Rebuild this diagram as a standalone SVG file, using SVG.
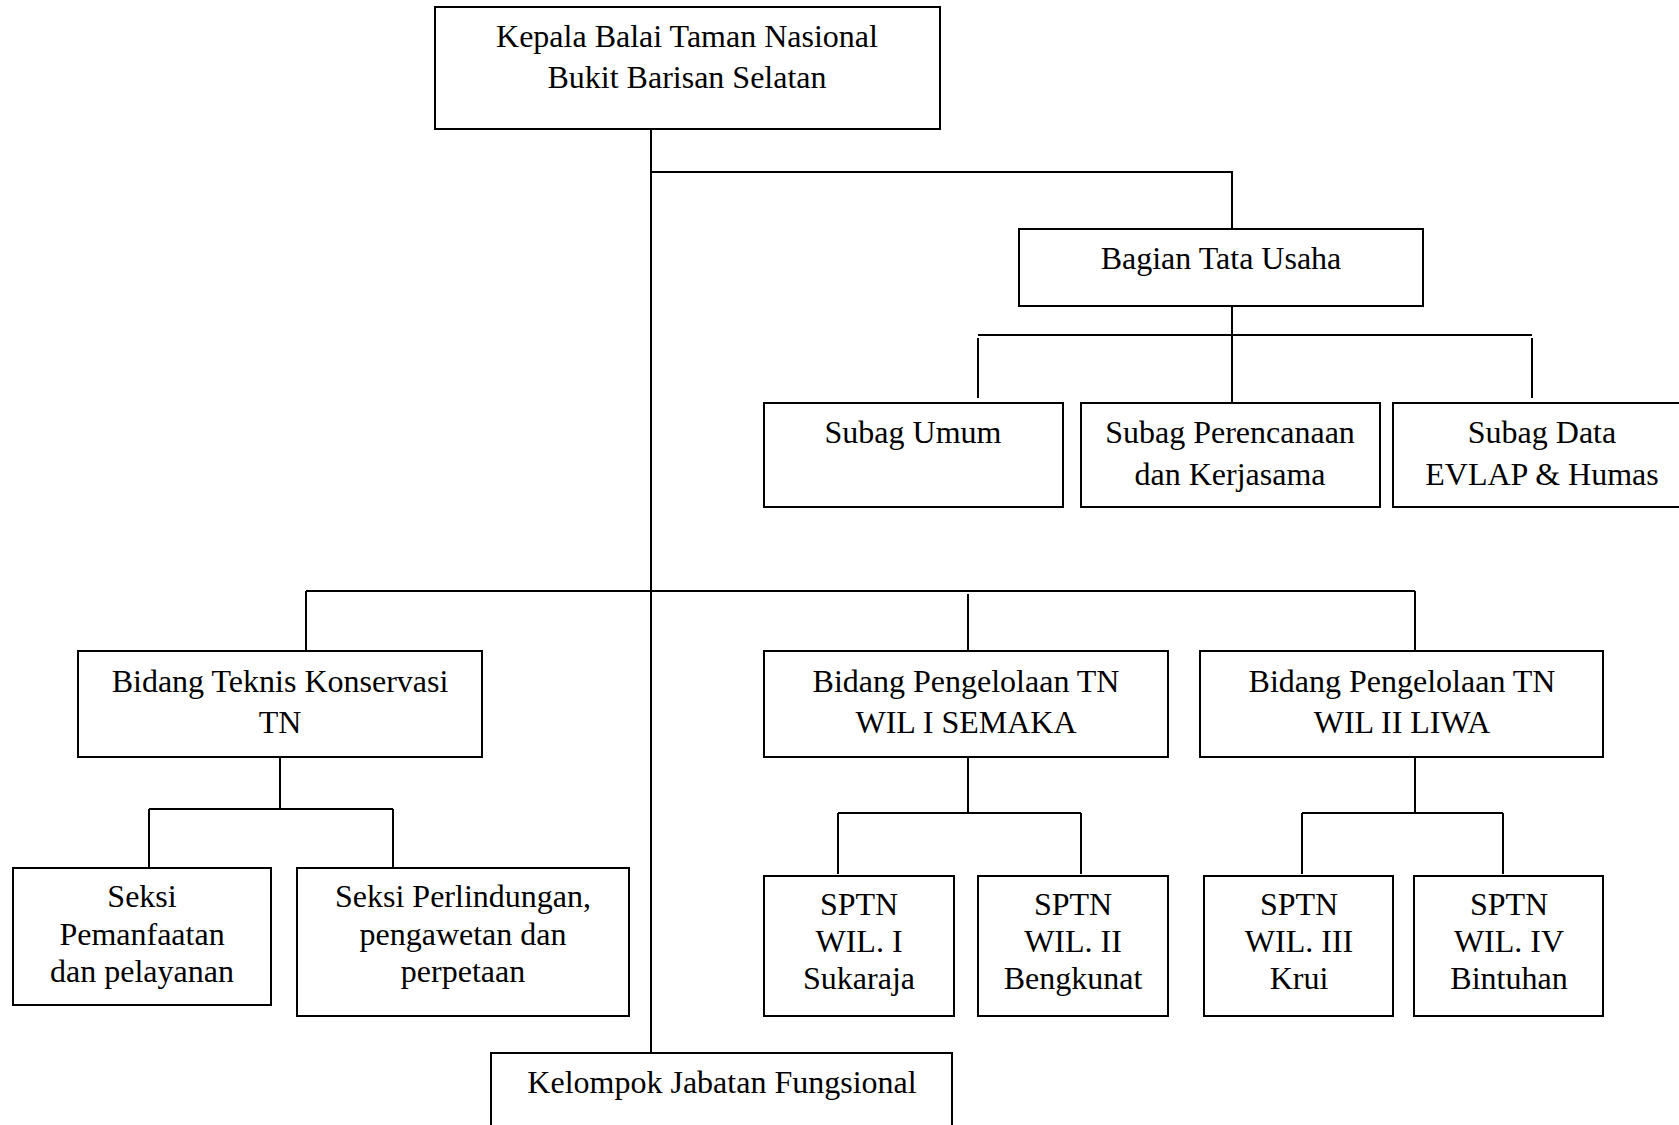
<svg xmlns="http://www.w3.org/2000/svg" width="1679" height="1125" viewBox="0 0 1679 1125">
<style>
.box{fill:#fff;stroke:#000;stroke-width:2}
.c{fill:none;stroke:#000;stroke-width:2}
text{font-family:"Liberation Serif","Times New Roman",serif;font-size:32px;fill:#000;text-anchor:middle}
</style>
<rect width="1679" height="1125" fill="#fff"/>
<g id="connectors">
<path class="c" d="M651 129V1053"/>
<path class="c" d="M651 172H1232V229"/>
<path class="c" d="M1232 306V403"/>
<path class="c" d="M978 335H1532"/>
<path class="c" d="M978 338V398M1532 338V398"/>
<path class="c" d="M306 591H1415"/>
<path class="c" d="M306 591V651M968 594V651M1415 591V651"/>
<path class="c" d="M280 757V809M149 809H393M149 809V868M393 809V868"/>
<path class="c" d="M968 757V813M838 813H1081M838 813V874M1081 813V874"/>
<path class="c" d="M1415 757V813M1302 813H1503M1302 813V874M1503 813V874"/>
</g>
<g id="kepala"><rect class="box" x="435" y="7" width="505" height="122"/><text x="687" y="47">Kepala Balai Taman Nasional</text><text x="687" y="88">Bukit Barisan Selatan</text></g>
<g id="bagian-tu"><rect class="box" x="1019" y="229" width="404" height="77"/><text x="1221" y="269">Bagian Tata Usaha</text></g>
<g id="subag-umum"><rect class="box" x="764" y="403" width="299" height="104"/><text x="913" y="443">Subag Umum</text></g>
<g id="subag-perencanaan"><rect class="box" x="1081" y="403" width="299" height="104"/><text x="1230" y="443">Subag Perencanaan</text><text x="1230" y="485">dan Kerjasama</text></g>
<g id="subag-data"><rect class="box" x="1393" y="403" width="310" height="104"/><text x="1542" y="443">Subag Data</text><text x="1542" y="485">EVLAP &amp; Humas</text></g>
<g id="bidang-teknis"><rect class="box" x="78" y="651" width="404" height="106"/><text x="280" y="692">Bidang Teknis Konservasi</text><text x="280" y="733">TN</text></g>
<g id="bidang-wil1"><rect class="box" x="764" y="651" width="404" height="106"/><text x="966" y="692">Bidang Pengelolaan TN</text><text x="966" y="733">WIL I SEMAKA</text></g>
<g id="bidang-wil2"><rect class="box" x="1200" y="651" width="403" height="106"/><text x="1402" y="692">Bidang Pengelolaan TN</text><text x="1402" y="733">WIL II LIWA</text></g>
<g id="seksi-pemanfaatan"><rect class="box" x="13" y="868" width="258" height="137"/><text x="142" y="907">Seksi</text><text x="142" y="945">Pemanfaatan</text><text x="142" y="982">dan pelayanan</text></g>
<g id="seksi-perlindungan"><rect class="box" x="297" y="868" width="332" height="148"/><text x="463" y="907">Seksi Perlindungan,</text><text x="463" y="945">pengawetan dan</text><text x="463" y="982">perpetaan</text></g>
<g id="sptn1"><rect class="box" x="764" y="876" width="190" height="140"/><text x="859" y="915">SPTN</text><text x="859" y="952">WIL. I</text><text x="859" y="989">Sukaraja</text></g>
<g id="sptn2"><rect class="box" x="978" y="876" width="190" height="140"/><text x="1073" y="915">SPTN</text><text x="1073" y="952">WIL. II</text><text x="1073" y="989">Bengkunat</text></g>
<g id="sptn3"><rect class="box" x="1204" y="876" width="189" height="140"/><text x="1299" y="915">SPTN</text><text x="1299" y="952">WIL. III</text><text x="1299" y="989">Krui</text></g>
<g id="sptn4"><rect class="box" x="1414" y="876" width="189" height="140"/><text x="1509" y="915">SPTN</text><text x="1509" y="952">WIL. IV</text><text x="1509" y="989">Bintuhan</text></g>
<g id="kelompok"><rect class="box" x="491" y="1053" width="461" height="100"/><text x="722" y="1093">Kelompok Jabatan Fungsional</text></g>
</svg>
